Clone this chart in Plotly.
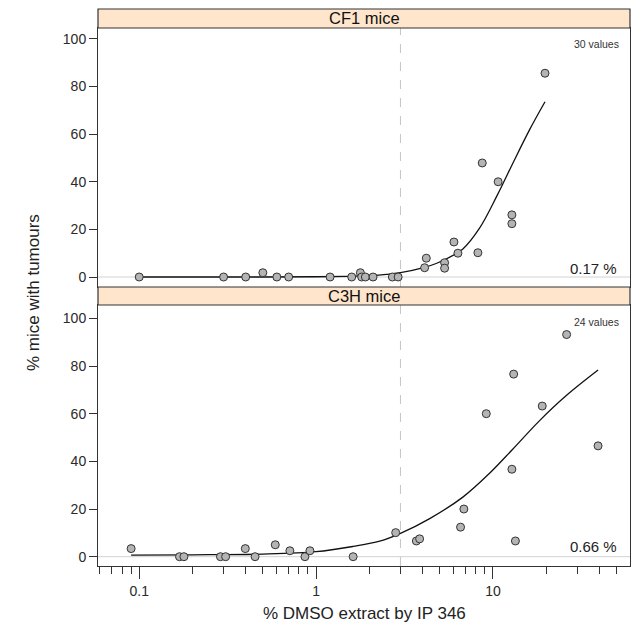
import plotly.graph_objects as go

# ---------------- data ----------------
cf1_dose = [0.1, 0.3, 0.4, 0.5, 0.6, 0.7, 1.2, 1.59, 1.78, 1.81, 1.9, 2.1, 2.7, 2.91,
            4.11, 4.2, 5.33, 5.33, 6.02, 6.34, 8.22, 8.7, 10.7, 12.8, 12.8, 19.7]
cf1_pct = [0, 0, 0, 1.8, 0, 0, 0, 0, 1.8, 0, 0, 0, 0, 0,
           3.9, 7.9, 6.0, 3.7, 14.7, 10.0, 10.2, 47.9, 40.0, 26.1, 22.4, 85.6]
cf1_fit_dose = [0.1, 0.5, 1, 1.5, 2, 2.5, 3, 4, 5, 6.76, 8.4, 10.6, 12.9, 16.1, 19.7]
cf1_fit_pct = [0.0, 0.0, 0.1, 0.3, 0.6, 1.1, 1.8, 3.8, 6.3, 11.8, 20.5, 34.5, 47.5, 61.8, 73.6]

c3h_dose = [0.09, 0.169, 0.179, 0.288, 0.308, 0.398, 0.452, 0.588, 0.711, 0.865, 0.923, 1.62,
            2.82, 3.69, 3.85, 6.56, 6.85, 9.17, 12.8, 13.1, 13.4, 19.0, 26.1, 39.3]
c3h_pct = [3.4, 0, 0, 0, 0, 3.4, 0, 5.0, 2.5, 0, 2.5, 0,
           10.1, 6.6, 7.5, 12.4, 20.0, 60.0, 36.7, 76.6, 6.6, 63.2, 93.2, 46.5]
c3h_fit_dose = [0.09, 0.2, 0.5, 1, 1.62, 2.29, 3, 4.39, 6.76, 9.57, 12.9, 18.3, 25.9, 39.3]
c3h_fit_pct = [0.7, 0.8, 1.1, 2.1, 4.3, 6.5, 9.8, 16.0, 25.0, 35.0, 45.0, 57.0, 67.5, 78.3]

panels = ["CF1 mice", "C3H mice"]
counts = ["30 values", "24 values"]
rates = ["0.17 %", "0.66 %"]
cutoff = 3
major_ticks = [0.1, 1, 10]
major_labels = ["0.1", "1", "10"]
minor_ticks = [0.06, 0.07, 0.08, 0.09, 0.2, 0.3, 0.4, 0.5, 0.6, 0.7, 0.8, 0.9,
               2, 3, 4, 5, 6, 7, 8, 9, 20, 30, 40, 50]
y_ticks = [0, 20, 40, 60, 80, 100]

# ---------------- figure ----------------
FONT = "Liberation Sans, Arial, Helvetica, sans-serif"
INK = "#2a2a2a"
W, H = 638, 626
mt, mb = 9, 60
plot_h = H - mt - mb


def py(pix):  # pixel row -> paper y
    return (H - mb - pix) / plot_h


top_dom = [py(287), py(28)]
bot_dom = [0.0, py(305)]
strip1 = [py(28), 1.0]
strip2 = [py(305), py(287)]

fig = go.Figure()

series = [
    (cf1_dose, cf1_pct, cf1_fit_dose, cf1_fit_pct, "x", "y"),
    (c3h_dose, c3h_pct, c3h_fit_dose, c3h_fit_pct, "x2", "y2"),
]
for dose, pct, fd, fp, xa, ya in series:
    fig.add_trace(go.Scatter(x=fd, y=fp, mode="lines", line=dict(color="#111111", width=1.3, shape="spline"),
                             xaxis=xa, yaxis=ya, hoverinfo="skip"))
    fig.add_trace(go.Scatter(x=dose, y=pct, mode="markers",
                             marker=dict(size=8, color="#b4b4b4", line=dict(color="#333333", width=1)),
                             xaxis=xa, yaxis=ya))

xr = [-1.233, 1.775]
axis_common = dict(type="log", range=xr, showline=True, mirror=True, linecolor="#333333", linewidth=1,
                   showgrid=False, zeroline=False)
fig.update_layout(
    width=W, height=H,
    margin=dict(l=98, r=8, t=mt, b=mb),
    paper_bgcolor="white", plot_bgcolor="white",
    showlegend=False,
    font=dict(family=FONT, color=INK, size=14),
    xaxis=dict(**axis_common, anchor="y", showticklabels=False, ticks=""),
    xaxis2=dict(**axis_common, anchor="y2", matches="x",
                tickmode="array", tickvals=major_ticks, ticktext=major_labels,
                ticks="outside", ticklen=12, tickcolor="#333333",
                tickfont=dict(size=14, color=INK),
                minor=dict(tickmode="array", tickvals=minor_ticks, ticks="outside", ticklen=7,
                           tickcolor="#333333")),
    yaxis=dict(domain=top_dom, range=[-4.2, 104.6], anchor="x", showline=True, mirror=True,
               linecolor="#333333", showgrid=False, zeroline=False, tickmode="array", tickvals=y_ticks,
               ticks="outside", ticklen=8, tickcolor="#333333", tickfont=dict(size=14, color=INK)),
    yaxis2=dict(domain=bot_dom, range=[-3.9, 105.6], anchor="x2", showline=True, mirror=True,
                linecolor="#333333", showgrid=False, zeroline=False, tickmode="array", tickvals=y_ticks,
                ticks="outside", ticklen=8, tickcolor="#333333", tickfont=dict(size=14, color=INK)),
)

shapes = []
for xa, ya in [("x", "y"), ("x2", "y2")]:
    shapes.append(dict(type="line", xref=xa + " domain", x0=0, x1=1, yref=ya, y0=0, y1=0,
                       line=dict(color="#d2d2d2", width=1), layer="below"))
    shapes.append(dict(type="line", xref=xa, x0=cutoff, x1=cutoff, yref=ya + " domain", y0=0, y1=1,
                       line=dict(color="#c4c4c4", width=1, dash="dash"), layer="below"))
for s in (strip1, strip2):
    shapes.append(dict(type="rect", xref="paper", x0=0, x1=1, yref="paper", y0=s[0], y1=s[1],
                       fillcolor="#ffe5cc", line=dict(color="#333333", width=1.2), layer="above"))
fig.update_layout(shapes=shapes)

ann = []
for name, s in zip(panels, (strip1, strip2)):
    ann.append(dict(text=name, xref="paper", yref="paper", x=0.5, y=(s[0] + s[1]) / 2,
                    showarrow=False, font=dict(size=16.5, color="#111111"), xanchor="center", yanchor="middle"))
ann.append(dict(text=counts[0], xref="paper", yref="paper", x=0.983, y=py(44), showarrow=False,
                xanchor="right", yanchor="middle", font=dict(size=10.5, color="#333333")))
ann.append(dict(text=counts[1], xref="paper", yref="paper", x=0.983, y=py(322), showarrow=False,
                xanchor="right", yanchor="middle", font=dict(size=10.5, color="#333333")))
ann.append(dict(text=rates[0], xref="paper", yref="paper", x=0.979, y=py(268), showarrow=False,
                xanchor="right", yanchor="middle", font=dict(size=15, color="#222222")))
ann.append(dict(text=rates[1], xref="paper", yref="paper", x=0.979, y=py(546), showarrow=False,
                xanchor="right", yanchor="middle", font=dict(size=15, color="#222222")))
ann.append(dict(text="% mice with tumours", xref="paper", yref="paper", x=(33 - 98) / 532, y=py(293),
                showarrow=False, textangle=-90, xanchor="center", yanchor="middle",
                font=dict(size=17, color="#222222")))
ann.append(dict(text="% DMSO extract by IP 346", xref="paper", yref="paper", x=0.5, y=py(613),
                showarrow=False, xanchor="center", yanchor="middle", font=dict(size=17, color="#222222")))
fig.update_layout(annotations=ann)

fig.write_html("out.html", config={"displayModeBar": False},
               post_script="document.body.style.margin='0';document.body.style.overflow='hidden';")
